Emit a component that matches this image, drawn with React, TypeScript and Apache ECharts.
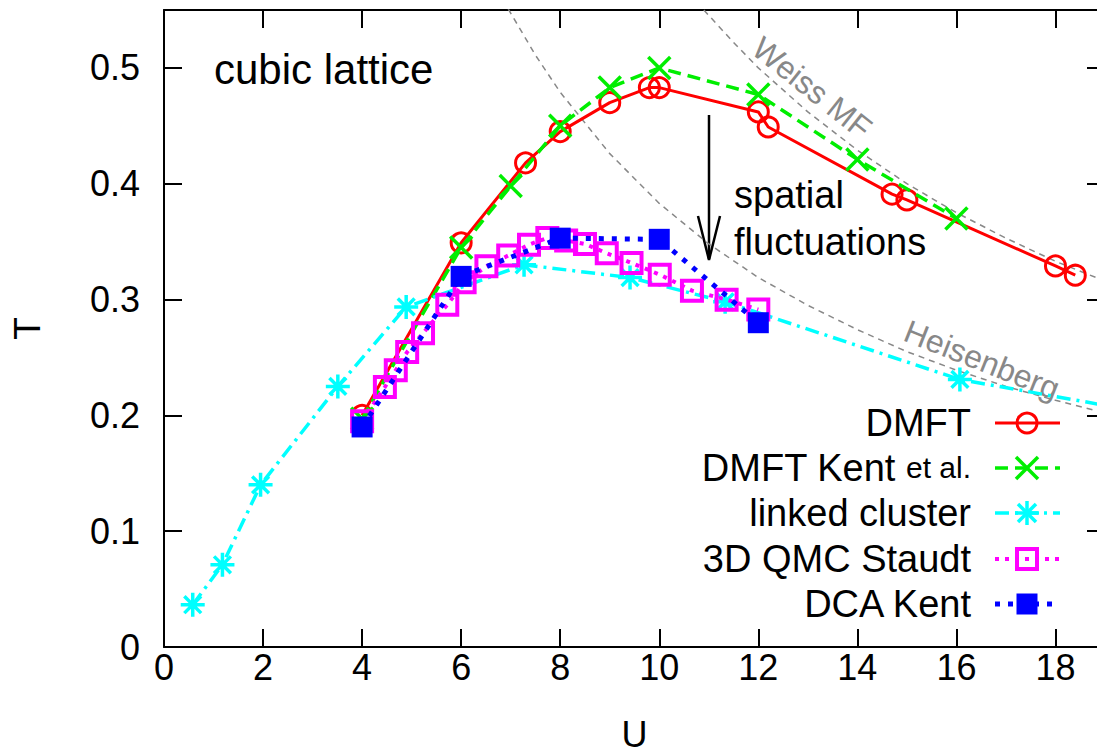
import React, { useEffect, useRef } from "react";
import * as echarts from "echarts";

const FONT = '"Liberation Sans", Arial, Helvetica, sans-serif';

// ---- data ----
const dmftU = [4, 6, 7.3, 8, 9, 9.8, 10, 12, 12.2, 14.7, 15, 18, 18.4];
const dmftT = [0.2, 0.349, 0.418, 0.445, 0.47, 0.483, 0.483, 0.462, 0.449, 0.391, 0.386, 0.329, 0.321];

const kentU = [4, 6, 7, 8, 9, 10, 12, 14, 16];
const kentT = [0.197, 0.345, 0.398, 0.45, 0.483, 0.5, 0.477, 0.421, 0.37];

const lcU = [0.58, 1.18, 1.95, 3.51, 4.89, 7.27, 9.41, 11.33, 16.07, 20];
const lcT = [0.0365, 0.071, 0.14, 0.225, 0.2936, 0.33, 0.319, 0.298, 0.231, 0.201];

const qmcU = [4, 4.46, 4.68, 4.91, 5.23, 5.72, 6.07, 6.51, 6.95, 7.37, 7.74, 8.12, 8.5, 8.94, 9.44, 10.01, 10.66, 11.36, 12.0];
const qmcT = [0.195, 0.2245, 0.239, 0.2547, 0.271, 0.2956, 0.315, 0.3287, 0.338, 0.3474, 0.3532, 0.351, 0.348, 0.34, 0.3316, 0.3215, 0.3077, 0.2999, 0.2913];

const dcaU = [4, 6, 8, 10, 12];
const dcaT = [0.19, 0.32, 0.353, 0.352, 0.28];

const weissU = [10.9, 11.5, 12, 13, 14, 15, 16, 17, 18, 19.2];
const weissT = [0.55, 0.522, 0.5, 0.462, 0.429, 0.4, 0.375, 0.353, 0.333, 0.3125];

const heisU = [6.95, 7.5, 8, 9, 10, 11, 12, 13, 14, 15, 16, 17, 18, 19.2];
const heisT = [0.551, 0.511, 0.479, 0.426, 0.383, 0.348, 0.319, 0.295, 0.274, 0.255, 0.239, 0.225, 0.213, 0.2];

const legendNames = ["DMFT", "DMFT Kent {s|et al.}", "linked cluster", "3D QMC Staudt", "DCA Kent"];

const RED = "#ff0000";
const GREEN = "#00ee00";
const CYAN = "#00ffff";
const MAGENTA = "#ff00ff";
const BLUE = "#0000ff";
const GRAY = "#888888";

const pair = (u: number[], t: number[]) => u.map((v, i) => [v, t[i]]);

const X_PATH = "path://M0,0L10,10M10,0L0,10";
const STAR_PATH = "path://M0,5L10,5M5,0L5,10M1.5,1.5L8.5,8.5M8.5,1.5L1.5,8.5";

export default function App() {
  const ref = useRef<HTMLDivElement>(null);

  useEffect(() => {
    const chart = echarts.init(ref.current!, null, { renderer: "svg" });

    const axisCommon = {
      min: 0,
      splitLine: { show: false },
      axisLine: { show: true, onZero: false, lineStyle: { color: "#000", width: 2 } },
      axisTick: { show: true, inside: true, length: 18, lineStyle: { color: "#000", width: 2 } },
    };

    const lineSeries = (
      name: string,
      data: number[][],
      color: string,
      lineType: any,
      width: number,
      symbol: string,
      symbolSize: number,
      itemStyle: any,
      z: number
    ) => ({
      type: "line",
      name,
      data,
      xAxisIndex: 0,
      yAxisIndex: 0,
      symbol,
      symbolSize,
      showSymbol: true,
      clip: true,
      silent: true,
      z,
      lineStyle: { color, width, type: lineType, cap: "butt" },
      itemStyle,
      emphasis: { disabled: true },
    });

    // legend graphic
    const rowY = [423, 468, 513, 559, 604];
    const lx0 = 995, lx1 = 1060, mx = 1027, tx = 971;
    const legendGraphics: any[] = [];
    const styles = [
      { color: RED, dash: null, w: 3 },
      { color: GREEN, dash: [13, 7], w: 3.5 },
      { color: CYAN, dash: [14, 6, 3, 6], w: 3.5 },
      { color: MAGENTA, dash: [4, 6], w: 4 },
      { color: BLUE, dash: [5, 8], w: 5 },
    ];
    rowY.forEach((y, i) => {
      legendGraphics.push({
        type: "text",
        x: tx,
        y,
        style: {
          text: legendNames[i],
          fontSize: 38,
          fontFamily: FONT,
          fill: "#000",
          align: "right",
          verticalAlign: "middle",
          rich: { s: { fontSize: 30, fontFamily: FONT, fill: "#000", padding: [0, 0, 2, 0] } },
        },
      });
      const s = styles[i];
      legendGraphics.push({
        type: "line",
        shape: { x1: lx0, y1: y, x2: lx1, y2: y },
        style: { stroke: s.color, lineWidth: s.w, lineDash: s.dash || undefined },
      });
    });
    // legend markers
    legendGraphics.push({
      type: "circle",
      shape: { cx: mx, cy: rowY[0], r: 10 },
      style: { fill: "none", stroke: RED, lineWidth: 3 },
    });
    [[-11, -11, 11, 11], [11, -11, -11, 11]].forEach((d) =>
      legendGraphics.push({
        type: "line",
        shape: { x1: mx + d[0], y1: rowY[1] + d[1], x2: mx + d[2], y2: rowY[1] + d[3] },
        style: { stroke: GREEN, lineWidth: 3.5 },
      })
    );
    [[-12, 0, 12, 0], [0, -12, 0, 12], [-9, -9, 9, 9], [9, -9, -9, 9]].forEach((d) =>
      legendGraphics.push({
        type: "line",
        shape: { x1: mx + d[0], y1: rowY[2] + d[1], x2: mx + d[2], y2: rowY[2] + d[3] },
        style: { stroke: CYAN, lineWidth: 3.5 },
      })
    );
    legendGraphics.push({
      type: "rect",
      shape: { x: mx - 10, y: rowY[3] - 10, width: 20, height: 20 },
      style: { fill: "none", stroke: MAGENTA, lineWidth: 4 },
    });
    legendGraphics.push({
      type: "rect",
      shape: { x: mx - 10.5, y: rowY[4] - 10.5, width: 21, height: 21 },
      style: { fill: BLUE },
    });

    const option: any = {
      animation: false,
      backgroundColor: "#fff",
      grid: { left: 164, top: 10, width: 941, height: 637, containLabel: false, outerBoundsMode: "none" },
      xAxis: [
        {
          ...axisCommon,
          type: "value",
          position: "bottom",
          max: 19,
          interval: 2,
          name: "U",
          nameLocation: "middle",
          nameGap: 69,
          nameTextStyle: { fontSize: 36, fontFamily: FONT, color: "#000" },
          axisLabel: { show: true, fontSize: 36, fontFamily: FONT, color: "#000", margin: 2, showMaxLabel: false },
        },
        {
          ...axisCommon,
          type: "value",
          position: "top",
          max: 19,
          interval: 2,
          axisLabel: { show: false },
        },
      ],
      yAxis: [
        {
          ...axisCommon,
          type: "value",
          position: "left",
          max: 0.55,
          interval: 0.1,
          name: "T",
          nameLocation: "middle",
          nameRotate: 90,
          nameGap: 118,
          nameTextStyle: { fontSize: 37, fontFamily: FONT, color: "#000" },
          axisLabel: {
            show: true,
            fontSize: 36,
            fontFamily: FONT,
            color: "#000",
            margin: 24,
            showMaxLabel: false,
            formatter: (v: number) => (v === 0 ? "0" : v.toFixed(1)),
          },
        },
        {
          ...axisCommon,
          type: "value",
          position: "right",
          max: 0.55,
          interval: 0.1,
          axisLabel: { show: false },
        },
      ],
      series: [
        lineSeries("Weiss MF", pair(weissU, weissT), GRAY, [6, 5], 1.5, "none", 0, { color: GRAY }, 1),
        lineSeries("Heisenberg", pair(heisU, heisT), GRAY, [6, 5], 1.5, "none", 0, { color: GRAY }, 1),
        lineSeries("DMFT", pair(dmftU, dmftT), RED, "solid", 3, "circle", 20,
          { color: "rgba(0,0,0,0)", borderColor: RED, borderWidth: 3 }, 2),
        lineSeries("DMFT Kent et al.", pair(kentU, kentT), GREEN, [13, 7], 3.5, X_PATH, 22,
          { color: "rgba(0,0,0,0)", borderColor: GREEN, borderWidth: 3.5 }, 3),
        lineSeries("linked cluster", pair(lcU, lcT), CYAN, [14, 6, 3, 6], 3.5, STAR_PATH, 24,
          { color: "rgba(0,0,0,0)", borderColor: CYAN, borderWidth: 3.5 }, 4),
        lineSeries("3D QMC Staudt", pair(qmcU, qmcT), MAGENTA, [4, 6], 4, "rect", 20,
          { color: "rgba(0,0,0,0)", borderColor: MAGENTA, borderWidth: 4 }, 5),
        lineSeries("DCA Kent", pair(dcaU, dcaT), BLUE, [5, 8], 5, "rect", 21,
          { color: BLUE, borderWidth: 0 }, 6),
      ],
      graphic: [
        {
          type: "text",
          x: 214,
          y: 69,
          style: { text: "cubic lattice", fontSize: 42, fontFamily: FONT, fill: "#000", align: "left", verticalAlign: "middle" },
        },
        {
          type: "text",
          x: 734,
          y: 195,
          style: { text: "spatial", fontSize: 38, fontFamily: FONT, fill: "#000", align: "left", verticalAlign: "middle" },
        },
        {
          type: "text",
          x: 734,
          y: 242,
          style: { text: "fluctuations", fontSize: 38, fontFamily: FONT, fill: "#000", align: "left", verticalAlign: "middle" },
        },
        {
          type: "line",
          shape: { x1: 709, y1: 115, x2: 709, y2: 259 },
          style: { stroke: "#000", lineWidth: 2.5 },
        },
        {
          type: "polyline",
          shape: { points: [[698, 216], [709, 260], [720, 216]] },
          style: { stroke: "#000", lineWidth: 2.5, fill: "none" },
        },
        {
          type: "text",
          x: 812,
          y: 88,
          rotation: (-38.5 * Math.PI) / 180,
          style: { text: "Weiss MF", fontSize: 32, fontFamily: FONT, fill: GRAY, align: "center", verticalAlign: "middle" },
        },
        {
          type: "text",
          x: 982,
          y: 360,
          rotation: (-21.6 * Math.PI) / 180,
          style: { text: "Heisenberg", fontSize: 32, fontFamily: FONT, fill: GRAY, align: "center", verticalAlign: "middle" },
        },
        ...legendGraphics,
      ],
    };

    chart.setOption(option);
    return () => chart.dispose();
  }, []);

  return (
    <div
      style={{
        position: "fixed",
        left: 0,
        top: 0,
        width: 1097,
        height: 755,
        overflow: "hidden",
        background: "#fff",
      }}
    >
      <div ref={ref} style={{ width: 1120, height: 755 }} />
    </div>
  );
}
